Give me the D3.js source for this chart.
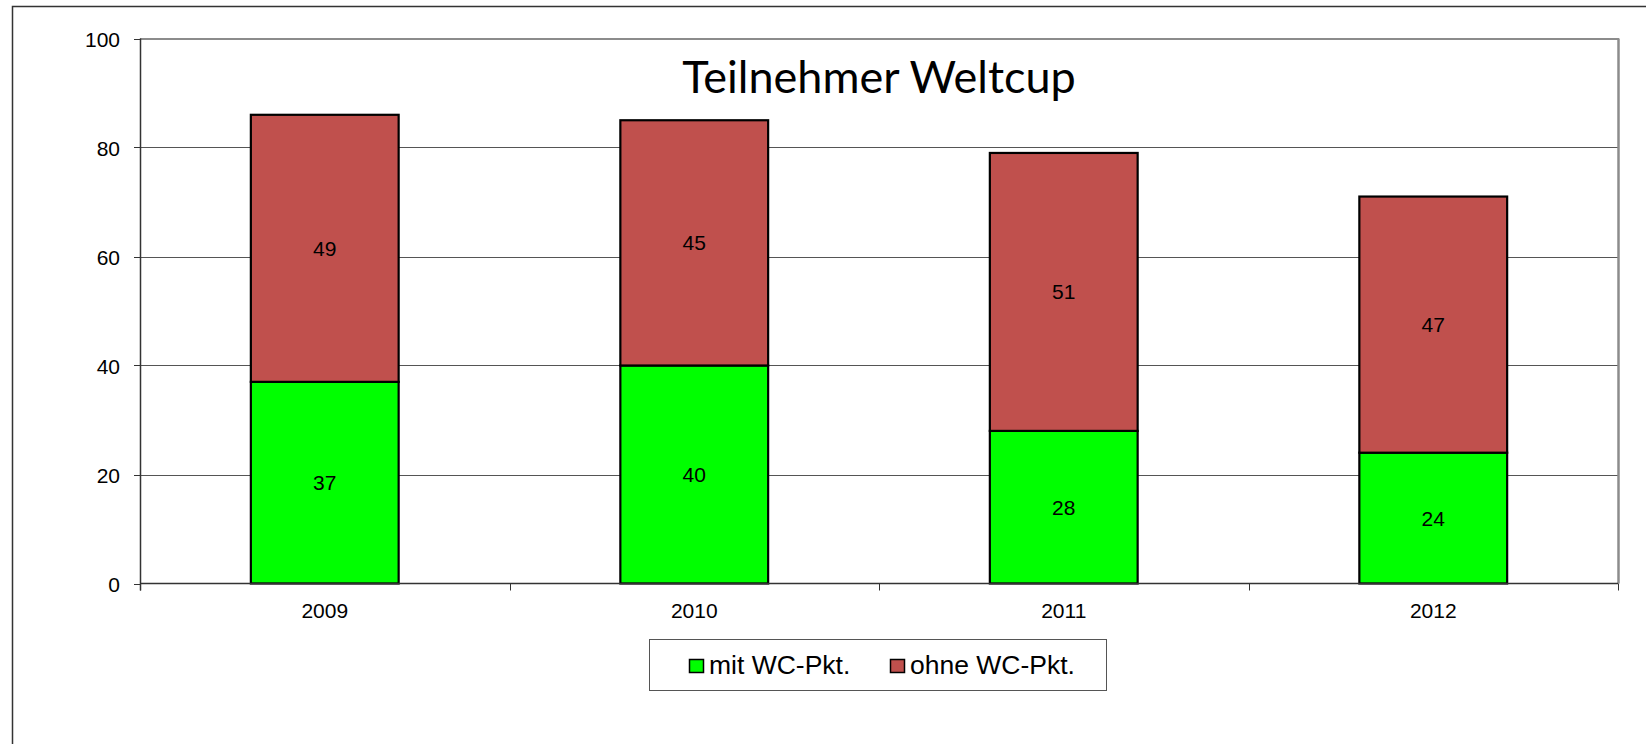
<!DOCTYPE html>
<html>
<head>
<meta charset="utf-8">
<script src="https://cdn.jsdelivr.net/npm/d3@7"></script>
<style>
  html, body { margin: 0; padding: 0; background: #fff; }
  svg { display: block; }
</style>
</head>
<body>
<svg id="chart" width="1646" height="744"></svg>
<script>
const categories = ["2009", "2010", "2011", "2012"];
const mitWC = [37, 40, 28, 24];
const ohneWC = [49, 45, 51, 47];
const seriesNames = ["mit WC-Pkt.", "ohne WC-Pkt."];
const yTicks = [0, 20, 40, 60, 80, 100];
const title = "Teilnehmer Weltcup";

const colors = ["#00FF00", "#C0504D"];
const W = 1646, H = 744;
const m = { left: 140, right: 1618, top: 38.5, bottom: 583.5 };
const svg = d3.select("#chart");
const font = "'Liberation Sans', Arial, sans-serif";

// outer frame
svg.append("rect").attr("x", 12.5).attr("y", 6.5).attr("width", W).attr("height", H)
  .attr("fill", "none").attr("stroke", "#333").attr("stroke-width", 1.5);

const x = d3.scaleBand().domain(categories).range([m.left, m.right]).paddingInner(0.6).paddingOuter(0.3);
const xb = d3.scaleBand().domain(categories).range([m.left, m.right]);
const y = d3.scaleLinear().domain([0, 100]).range([m.bottom, m.top]);

// gridlines
svg.append("g").selectAll("line").data(yTicks.filter(t => t > 0 && t < 100)).join("line")
  .attr("x1", m.left).attr("x2", m.right)
  .attr("y1", d => Math.round(y(d)) + 0.5).attr("y2", d => Math.round(y(d)) + 0.5)
  .attr("stroke", "#555").attr("stroke-width", 1);

// plot border top & right
svg.append("line").attr("x1", m.left).attr("x2", m.right + 1).attr("y1", m.top + 0.5).attr("y2", m.top + 0.5)
  .attr("stroke", "#8c8c8c").attr("stroke-width", 2);
svg.append("line").attr("x1", m.right + 0.5).attr("x2", m.right + 0.5).attr("y1", m.top).attr("y2", m.bottom)
  .attr("stroke", "#8c8c8c").attr("stroke-width", 2.5);

// stacked data
const stackData = categories.map((c, i) => ({ cat: c, mit: mitWC[i], ohne: ohneWC[i] }));
const stack = d3.stack().keys(["mit", "ohne"])(stackData);

const g = svg.append("g");
stack.forEach((layer, li) => {
  g.append("g").selectAll("rect").data(layer).join("rect")
    .attr("x", d => x(d.data.cat))
    .attr("width", x.bandwidth())
    .attr("y", d => y(d[1]))
    .attr("height", d => y(d[0]) - y(d[1]))
    .attr("fill", colors[li])
    .attr("stroke", "#000").attr("stroke-width", 2.2);
});
// labels
stack.forEach((layer) => {
  g.append("g").selectAll("text").data(layer).join("text")
    .attr("x", d => x(d.data.cat) + x.bandwidth() / 2)
    .attr("y", d => y((d[0] + d[1]) / 2))
    .attr("text-anchor", "middle").attr("dominant-baseline", "central")
    .attr("font-family", font).attr("font-size", 21).attr("fill", "#000")
    .text(d => d[1] - d[0]);
});

// y axis
const yAxis = svg.append("g");
yAxis.append("line").attr("x1", m.left + 0.5).attr("x2", m.left + 0.5).attr("y1", m.top).attr("y2", m.bottom + 7)
  .attr("stroke", "#333").attr("stroke-width", 1.5);
yAxis.selectAll("line.tick").data(yTicks).join("line").attr("class", "tick")
  .attr("x1", m.left - 6).attr("x2", m.left)
  .attr("y1", d => Math.round(y(d)) + 0.5).attr("y2", d => Math.round(y(d)) + 0.5)
  .attr("stroke", "#333").attr("stroke-width", 1);
yAxis.selectAll("text").data(yTicks).join("text")
  .attr("x", 120).attr("y", d => y(d) + 1)
  .attr("text-anchor", "end").attr("dominant-baseline", "central")
  .attr("font-family", font).attr("font-size", 21).attr("fill", "#000")
  .text(d => d);

// x axis
const xAxis = svg.append("g");
xAxis.append("line").attr("x1", m.left).attr("x2", m.right).attr("y1", m.bottom).attr("y2", m.bottom)
  .attr("stroke", "#333").attr("stroke-width", 1.5);
const bounds = categories.map(c => xb(c)).concat([m.right]);
xAxis.selectAll("line.tick").data(bounds).join("line").attr("class", "tick")
  .attr("x1", d => Math.round(d) + 0.5).attr("x2", d => Math.round(d) + 0.5)
  .attr("y1", m.bottom).attr("y2", m.bottom + 7)
  .attr("stroke", "#333").attr("stroke-width", 1);
xAxis.selectAll("text").data(categories).join("text")
  .attr("x", d => xb(d) + xb.bandwidth() / 2).attr("y", 618)
  .attr("text-anchor", "middle")
  .attr("font-family", font).attr("font-size", 21).attr("fill", "#000")
  .text(d => d);

// title
svg.append("text").attr("x", (m.left + m.right) / 2).attr("y", 93)
  .attr("text-anchor", "middle")
  .attr("font-family", "Lato, 'Open Sans', sans-serif").attr("font-size", 45).attr("fill", "#000")
  .text(title);

// legend
const leg = svg.append("g");
leg.append("rect").attr("x", 649.5).attr("y", 639.5).attr("width", 457).attr("height", 51)
  .attr("fill", "#fff").attr("stroke", "#555").attr("stroke-width", 1);
const legX = [689, 890];
seriesNames.forEach((name, i) => {
  leg.append("rect").attr("x", legX[i] + 0.5).attr("y", 659.5).attr("width", 14).attr("height", 13)
    .attr("fill", colors[i]).attr("stroke", "#000").attr("stroke-width", 1.5);
  leg.append("text").attr("x", legX[i] + 20).attr("y", 673.5)
    .attr("font-family", font).attr("font-size", 26.5).attr("fill", "#000")
    .text(name);
});
</script>
</body>
</html>
